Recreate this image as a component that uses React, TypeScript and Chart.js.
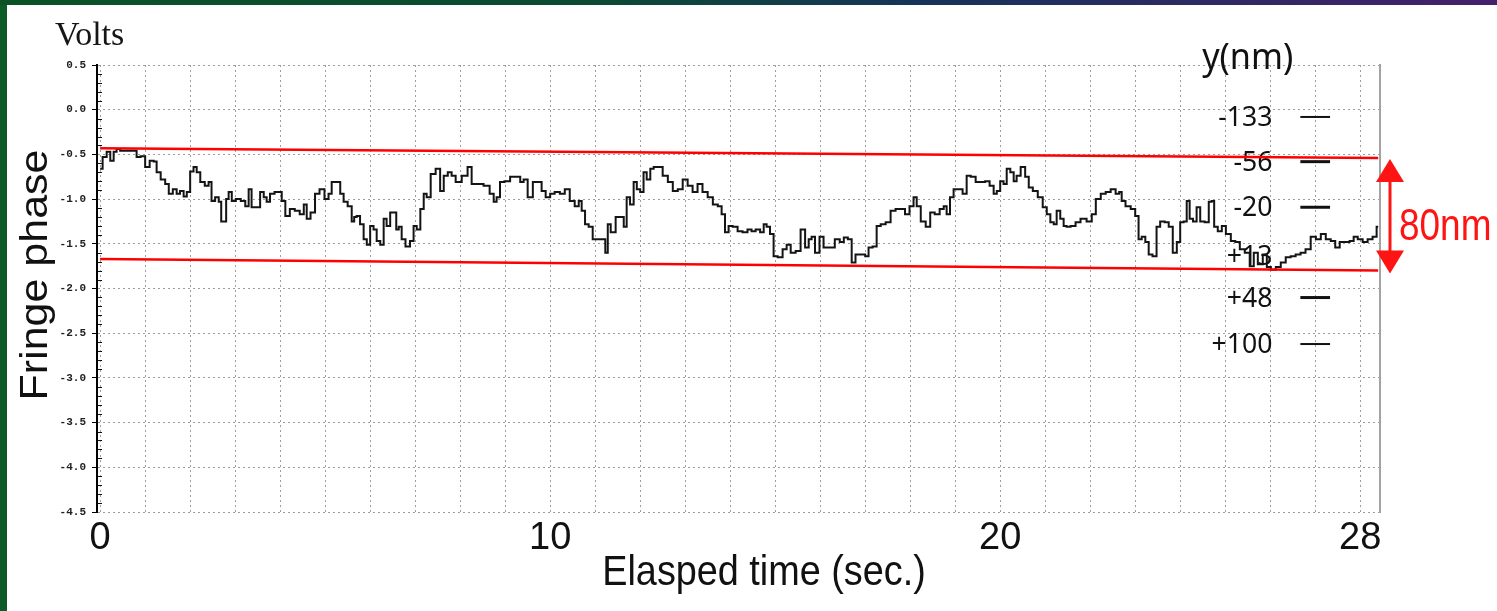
import React, { useEffect, useRef } from 'react';
import { Chart, registerables } from 'chart.js';

Chart.register(...registerables);

// ---- Data (time in seconds, fringe phase in volts) ----
const traceA: [number, number][] = [
  [0.00,-0.66],[0.11,-0.53],[0.18,-0.47],[0.27,-0.57],[0.33,-0.47],[0.40,-0.44],[0.49,-0.46],[0.78,-0.46],
  [0.84,-0.53],[0.96,-0.52],[1.04,-0.64],[1.16,-0.57],[1.22,-0.58],[1.29,-0.70],[1.40,-0.78],[1.49,-0.83],
  [1.56,-0.94],[1.67,-0.89],[1.73,-0.94],[1.82,-0.91],[1.89,-0.97],[1.96,-0.92],[2.04,-0.69],[2.11,-0.64],
  [2.18,-0.70],[2.27,-0.81],[2.38,-0.85],[2.44,-0.81],[2.51,-1.02],[2.60,-0.98],[2.67,-1.03],[2.71,-1.25],
  [2.78,-1.25],[2.82,-1.00],[2.89,-0.92],[2.96,-1.02],[3.07,-1.00],[3.18,-1.02],[3.27,-1.08],[3.33,-0.89],
  [3.40,-1.09],[3.51,-1.09],[3.60,-0.92],[3.67,-0.98],[3.73,-1.03],[3.82,-0.94],[3.93,-0.92],[4.00,-0.92],
  [4.07,-1.02],[4.16,-1.19],[4.27,-1.11],[4.38,-1.13],[4.49,-1.17],[4.56,-1.06],[4.62,-1.22],[4.73,-1.15],
  [4.82,-0.94],[4.93,-0.89],[5.04,-1.00],[5.11,-0.94],[5.18,-0.81],[5.29,-0.81],[5.38,-0.94],[5.44,-1.03],
  [5.56,-1.08],[5.62,-1.25],
];
const traceB: [number, number][] = [
  [5.67,-1.20],[5.73,-1.19],[5.82,-1.28],[5.89,-1.45],[5.96,-1.51],[6.04,-1.30],[6.11,-1.34],[6.18,-1.47],
  [6.27,-1.51],[6.33,-1.22],[6.40,-1.30],[6.49,-1.15],[6.56,-1.15],[6.60,-1.34],[6.67,-1.31],[6.73,-1.45],
  [6.84,-1.53],[6.93,-1.47],[7.00,-1.30],[7.07,-1.34],[7.16,-1.11],[7.22,-0.94],[7.29,-0.98],[7.40,-0.72],
  [7.51,-0.66],[7.60,-0.91],[7.67,-0.74],[7.78,-0.70],[7.84,-0.74],[7.96,-0.81],[8.11,-0.74],[8.22,-0.64],
  [8.29,-0.83],[8.44,-0.83],[8.60,-0.85],[8.71,-0.94],[8.78,-1.03],[8.84,-0.98],[8.93,-0.81],[9.04,-0.80],
  [9.18,-0.75],[9.29,-0.75],[9.38,-0.81],[9.44,-0.78],[9.56,-0.98],[9.67,-0.81],[9.78,-0.81],[9.84,-0.91],
  [9.96,-0.98],[10.04,-0.94],[10.16,-0.92],[10.27,-0.94],[10.38,-0.89],[10.49,-1.02],[10.60,-1.08],[10.67,-1.02],
  [10.73,-1.13],[10.82,-1.28],[10.89,-1.31],[11.00,-1.45],[11.18,-1.45],[11.27,-1.60],
];
const traceC: [number, number][] = [
  [11.29,-1.28],[11.40,-1.37],[11.51,-1.20],[11.60,-1.20],[11.67,-1.31],[11.73,-0.98],[11.82,-1.06],[11.89,-0.81],
  [11.96,-0.89],[12.04,-0.92],[12.11,-0.70],[12.18,-0.78],[12.27,-0.66],[12.33,-0.64],[12.44,-0.64],[12.56,-0.74],
  [12.67,-0.81],[12.78,-0.91],[12.89,-0.89],[13.00,-0.78],[13.11,-0.85],[13.22,-0.92],[13.33,-0.83],[13.44,-0.92],
  [13.56,-0.98],[13.67,-1.06],[13.78,-1.08],[13.84,-1.17],[13.93,-1.37],[14.00,-1.30],[14.11,-1.31],[14.22,-1.36],
  [14.33,-1.37],[14.44,-1.34],[14.51,-1.36],[14.62,-1.34],[14.71,-1.37],[14.78,-1.28],[14.84,-1.31],[14.93,-1.39],
  [15.00,-1.64],[15.11,-1.65],[15.22,-1.56],[15.29,-1.51],[15.40,-1.60],[15.51,-1.58],[15.62,-1.34],[15.71,-1.54],
  [15.78,-1.45],[15.84,-1.42],[15.93,-1.60],[16.04,-1.42],[16.11,-1.54],[16.27,-1.54],[16.38,-1.45],[16.49,-1.48],
  [16.56,-1.43],[16.67,-1.45],[16.73,-1.71],[16.84,-1.62],[16.96,-1.62],
];
const traceD: [number, number][] = [
  [17.04,-1.64],[17.11,-1.54],[17.22,-1.53],[17.29,-1.30],[17.40,-1.28],[17.51,-1.26],[17.62,-1.13],[17.73,-1.11],
  [17.84,-1.11],[17.93,-1.17],[18.04,-1.08],[18.11,-0.98],[18.18,-1.08],[18.29,-1.25],[18.40,-1.31],[18.49,-1.15],
  [18.60,-1.17],[18.71,-1.11],[18.78,-1.08],[18.84,-1.17],[18.93,-0.98],[19.00,-0.89],[19.11,-0.89],[19.22,-0.94],
  [19.29,-0.74],[19.40,-0.75],[19.51,-0.81],[19.62,-0.81],[19.71,-0.80],[19.82,-0.85],[19.89,-0.94],[19.96,-0.91],
  [20.04,-0.80],[20.11,-0.83],[20.18,-0.66],[20.27,-0.70],[20.33,-0.80],[20.40,-0.74],[20.51,-0.64],[20.60,-0.75],
  [20.67,-0.87],[20.78,-0.91],[20.89,-0.98],[21.00,-1.09],[21.07,-1.17],[21.16,-1.26],[21.22,-1.28],[21.29,-1.13],
  [21.38,-1.22],[21.44,-1.30],[21.51,-1.31],[21.62,-1.30],[21.73,-1.26],[21.84,-1.22],[22.00,-1.25],[22.07,-1.17],
  [22.18,-1.00],[22.29,-0.94],[22.40,-0.92],[22.51,-0.89],[22.62,-0.94],
];
const traceE: [number, number][] = [
  [22.67,-0.92],[22.73,-1.02],[22.84,-1.08],[22.96,-1.11],[23.04,-1.19],[23.11,-1.45],[23.18,-1.42],[23.27,-1.48],
  [23.33,-1.62],[23.44,-1.64],[23.51,-1.31],[23.60,-1.25],[23.71,-1.26],[23.78,-1.31],[23.89,-1.60],[23.96,-1.48],
  [24.04,-1.26],[24.11,-1.25],[24.18,-1.02],[24.24,-1.22],[24.33,-1.25],[24.40,-1.09],[24.49,-1.25],[24.60,-1.26],
  [24.67,-1.03],[24.73,-1.02],[24.78,-1.31],[24.89,-1.36],[24.96,-1.30],[25.07,-1.39],[25.18,-1.47],[25.27,-1.48],
  [25.38,-1.56],[25.49,-1.60],[25.60,-1.75],[25.67,-1.60],[25.78,-1.73],[25.89,-1.62],[25.96,-1.76],[26.07,-1.79],
  [26.18,-1.76],[26.29,-1.71],[26.40,-1.65],[26.51,-1.64],[26.62,-1.62],[26.73,-1.60],[26.84,-1.56],[26.96,-1.42],
  [27.07,-1.45],[27.18,-1.39],[27.29,-1.45],[27.40,-1.47],[27.49,-1.54],[27.60,-1.48],[27.71,-1.48],[27.82,-1.47],
  [27.89,-1.42],[28.00,-1.45],[28.11,-1.48],[28.22,-1.45],[28.33,-1.42],[28.40,-1.31],
];

// red envelope lines
const bandTimes = [0, 28.4];
const upperBand = [-0.43, -0.54];
const lowerBand = [-1.67, -1.8];
const bandLabel = '80nm';

// axes
const xGridSeconds = [0,1,2,3,4,5,6,7,8,9,10,11,12,13,14,15,16,17,18,19,20,21,22,23,24,25,26,27,28];
const xTickLabels = [0, 10, 20, 28];
const yMinorStep = 0.1;

// handwritten displacement annotations (nm) and their phase levels
const nmHeader = 'y(nm)';
const nmLabels = ['-133', '-56', '-20', '+13', '+48', '+100'];
const nmLevels = [-0.07, -0.57, -1.08, -1.62, -2.09, -2.61];
const nmHasDash = [true, true, true, false, true, true];

const W = 1497;
const H = 611;

function drawText(
  ctx: CanvasRenderingContext2D, text: string, x: number, y: number,
  font: string, color: string, align: CanvasTextAlign, sx = 1,
) {
  ctx.save();
  ctx.translate(x, y);
  ctx.scale(sx, 1);
  ctx.font = font;
  ctx.fillStyle = color;
  ctx.textAlign = align;
  ctx.textBaseline = 'alphabetic';
  ctx.fillText(text, 0, 0);
  ctx.restore();
}

const overlayPlugin = {
  id: 'overlay',
  beforeDraw(chart: any) {
    const ctx = chart.ctx as CanvasRenderingContext2D;
    ctx.save();
    ctx.fillStyle = '#ffffff';
    ctx.fillRect(0, 0, chart.width, chart.height);
    ctx.restore();
  },
  beforeDatasetsDraw(chart: any) {
    const ctx = chart.ctx as CanvasRenderingContext2D;
    const xs = chart.scales.x;
    const ys = chart.scales.y;
    // y-axis minor ticks
    ctx.save();
    ctx.strokeStyle = '#111';
    ctx.lineWidth = 1;
    for (let v = 0.5; v >= -4.5 - 1e-9; v -= yMinorStep) {
      const r = Math.round(v * 10);
      if (r % 5 === 0) continue;
      const py = Math.round(ys.getPixelForValue(v)) + 0.5;
      ctx.beginPath();
      ctx.moveTo(xs.left + 1, py);
      ctx.lineTo(xs.left + 5, py);
      ctx.stroke();
    }
    ctx.restore();

    // handwritten annotations
    const hw = '"Noto Sans", "DejaVu Sans", sans-serif';
    drawText(ctx, nmHeader, xs.getPixelForValue(25.5), ys.top + 4, `36px ${hw}`, '#111', 'center', 0.95);
    nmLabels.forEach((lab, i) => {
      const py = ys.getPixelForValue(nmLevels[i]);
      drawText(ctx, lab, xs.getPixelForValue(26.05), py + 10, `28px ${hw}`, '#111', 'right', 0.95);
      if (nmHasDash[i]) {
        ctx.save();
        ctx.strokeStyle = '#111';
        ctx.lineWidth = i === 0 || i === 5 ? 2 : 3;
        ctx.beginPath();
        ctx.moveTo(xs.getPixelForValue(26.67), py + 1);
        ctx.lineTo(xs.getPixelForValue(27.33), py + 1);
        ctx.stroke();
        ctx.restore();
      }
    });
  },
  afterDraw(chart: any) {
    const ctx = chart.ctx as CanvasRenderingContext2D;
    const xs = chart.scales.x;
    const ys = chart.scales.y;
    const sans = '"Liberation Sans", Arial, sans-serif';

    // titles
    drawText(ctx, 'Volts', 55, 45, '34px "Liberation Serif", serif', '#161616', 'left');
    drawText(ctx, 'Elasped time (sec.)', 764, 585, `42px ${sans}`, '#111', 'center', 0.9);
    ctx.save();
    ctx.translate(47, 275);
    ctx.rotate(-Math.PI / 2);
    ctx.scale(1, 0.9);
    ctx.font = `43px ${sans}`;
    ctx.fillStyle = '#111';
    ctx.textAlign = 'center';
    ctx.textBaseline = 'alphabetic';
    ctx.fillText('Fringe phase', 0, 0);
    ctx.restore();

    // red double arrow between the band ends
    const ax = xs.right + 10;
    const yTop = ys.getPixelForValue(upperBand[1]) + 1;
    const yBot = ys.getPixelForValue(lowerBand[1]) + 3;
    ctx.save();
    ctx.strokeStyle = '#ff1414';
    ctx.fillStyle = '#ff1414';
    ctx.lineWidth = 3;
    ctx.beginPath();
    ctx.moveTo(ax, yTop + 18);
    ctx.lineTo(ax, yBot - 18);
    ctx.stroke();
    ctx.beginPath();
    ctx.moveTo(ax, yTop);
    ctx.lineTo(ax - 14, yTop + 23);
    ctx.lineTo(ax + 14, yTop + 23);
    ctx.closePath();
    ctx.fill();
    ctx.beginPath();
    ctx.moveTo(ax, yBot);
    ctx.lineTo(ax - 14, yBot - 23);
    ctx.lineTo(ax + 14, yBot - 23);
    ctx.closePath();
    ctx.fill();
    ctx.restore();
    drawText(ctx, bandLabel, ax + 9, (yTop + yBot) / 2 + 24, `44px ${sans}`, '#ff1414', 'left', 0.84);

    // slide frame
    ctx.save();
    ctx.fillStyle = '#0b5a28';
    ctx.fillRect(0, 0, 7, chart.height);
    const g = ctx.createLinearGradient(0, 0, chart.width, 0);
    g.addColorStop(0, '#0a5226');
    g.addColorStop(0.4, '#0c4a34');
    g.addColorStop(0.62, '#17335a');
    g.addColorStop(1, '#45206c');
    ctx.fillStyle = g;
    ctx.fillRect(0, 0, chart.width, 5);
    ctx.restore();
  },
};

export default function App() {
  const canvasRef = useRef<HTMLCanvasElement | null>(null);

  useEffect(() => {
    const canvas = canvasRef.current;
    if (!canvas) return;
    const trace = [...traceA, ...traceB, ...traceC, ...traceD, ...traceE].map(([t, v]) => ({ x: t, y: v }));
    const gridColor = 'rgba(0,0,0,0.38)';

    const chart = new Chart(canvas, {
      type: 'line',
      data: {
        datasets: [
          {
            label: 'Fringe phase',
            data: trace,
            borderColor: '#141414',
            borderWidth: 2,
            pointRadius: 0,
            stepped: 'middle',
            fill: false,
            order: 2,
          },
          {
            label: 'upper',
            data: bandTimes.map((t, i) => ({ x: t, y: upperBand[i] })),
            borderColor: '#ff0000',
            borderWidth: 2.5,
            pointRadius: 0,
            order: 1,
          },
          {
            label: 'lower',
            data: bandTimes.map((t, i) => ({ x: t, y: lowerBand[i] })),
            borderColor: '#ff0000',
            borderWidth: 2.5,
            pointRadius: 0,
            order: 1,
          },
        ],
      },
      options: {
        responsive: false,
        animation: false,
        devicePixelRatio: 1,
        layout: { padding: { left: 0, top: 65, right: 117, bottom: 0 } },
        plugins: {
          legend: { display: false },
          tooltip: { enabled: false },
          title: { display: false },
        },
        scales: {
          x: {
            type: 'linear',
            min: -0.07,
            max: 28.44,
            afterBuildTicks: (s: any) => {
              s.ticks = xGridSeconds.map((v) => ({ value: v }));
            },
            afterFit: (s: any) => {
              s.height = 99;
            },
            grid: { color: gridColor, lineWidth: 1, drawTicks: false },
            border: { display: false, dash: [2, 3] },
            ticks: {
              autoSkip: false,
              maxRotation: 0,
              padding: 4,
              color: '#111',
              font: { family: '"Liberation Sans", Arial, sans-serif', size: 38 },
              callback: (v: any) => (xTickLabels.includes(Number(v)) ? String(v) : ''),
            },
          },
          y: {
            type: 'linear',
            min: -4.5,
            max: 0.5,
            afterFit: (s: any) => {
              s.width = 97;
            },
            grid: { color: gridColor, lineWidth: 1, tickLength: 5, tickColor: '#000', tickWidth: 1 },
            border: { display: true, color: '#000', width: 2, dash: [2, 3] },
            ticks: {
              stepSize: 0.5,
              padding: 6,
              color: '#222',
              font: { family: '"Liberation Mono", monospace', size: 11, weight: 'bold' },
              callback: (v: any) => Number(v).toFixed(1),
            },
          },
          y2: {
            type: 'linear',
            position: 'right',
            min: -4.5,
            max: 0.5,
            afterFit: (s: any) => {
              s.width = 0;
            },
            grid: { display: false, drawTicks: false },
            ticks: { display: false },
            border: { display: true, color: '#a3a3a3', width: 2 },
          },
        },
      } as any,
      plugins: [overlayPlugin],
    });

    return () => {
      chart.destroy();
    };
  }, []);

  return (
    <div style={{ position: 'fixed', left: 0, top: 0, width: W, height: H, background: '#fff' }}>
      <canvas ref={canvasRef} width={W} height={H} style={{ display: 'block' }} />
    </div>
  );
}
